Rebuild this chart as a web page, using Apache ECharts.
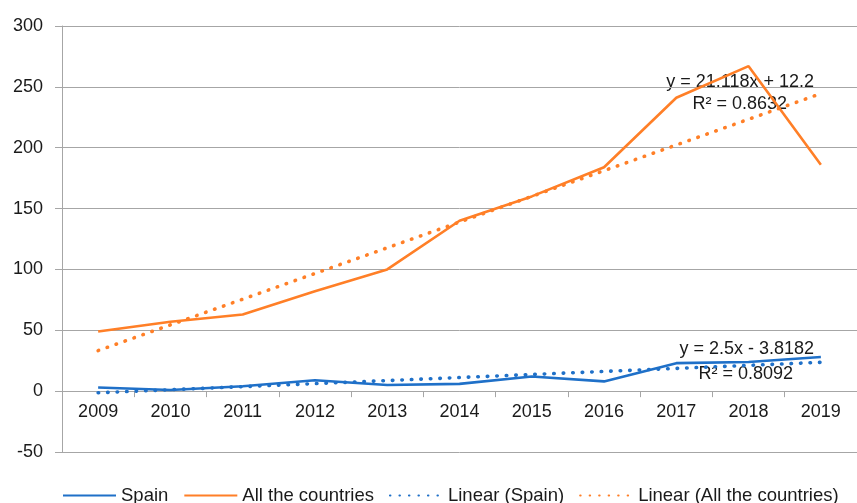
<!DOCTYPE html>
<html>
<head>
<meta charset="utf-8">
<script src="https://cdn.jsdelivr.net/npm/echarts@6/dist/echarts.min.js"></script>
<style>html,body{margin:0;padding:0;background:#fff}#c{width:857px;height:503px}</style>
</head>
<body>
<div id="c"></div>
<script>
var years = ['2009','2010','2011','2012','2013','2014','2015','2016','2017','2018','2019'];
var spain = [3, 1, 4, 9, 5, 6, 12, 8, 23, 24, 28];
var allCountries = [49, 57, 63, 82, 100, 140, 160, 184, 241, 267, 186];
var linearSpain = [-1.32, 1.18, 3.68, 6.18, 8.68, 11.18, 13.68, 16.18, 18.68, 21.18, 23.68];
var linearAll = [33.32, 54.44, 75.55, 96.67, 117.79, 138.91, 160.03, 181.14, 202.26, 223.38, 244.50];
var yTicks = { min: -50, max: 300, interval: 50 };
var eqAll = ['y = 21.118x + 12.2', 'R\u00b2 = 0.8632'];
var eqSpain = ['y = 2.5x - 3.8182', 'R\u00b2 = 0.8092'];

var BLUE = '#1f70c8', ORANGE = '#ff7f27', GRID = '#a6a6a6';
var FONT = 'Liberation Sans';
var chart = echarts.init(document.getElementById('c'));
var dotted = [0.5, 9];
var gridTop = 26, gridHeight = 426;
// place the category axis where value 0 sits
var zeroOffset = gridHeight * (yTicks.max - 0) / (yTicks.max - yTicks.min) - gridHeight;
chart.setOption({
  animation: false,
  backgroundColor: '#fff',
  textStyle: { fontFamily: FONT },
  grid: { left: 62, top: gridTop, width: 808.5, height: gridHeight, containLabel: false },
  xAxis: {
    type: 'category', data: years, boundaryGap: true, position: 'bottom', offset: zeroOffset,
    axisLine: { onZero: false, lineStyle: { color: GRID, width: 1 } },
    axisTick: { show: true, length: 6, lineStyle: { color: GRID } },
    axisLabel: { color: '#1a1a1a', fontSize: 18, margin: 12, fontFamily: FONT },
    splitLine: { show: false }
  },
  yAxis: {
    type: 'value', min: yTicks.min, max: yTicks.max, interval: yTicks.interval,
    axisLine: { show: true, lineStyle: { color: GRID, width: 1 } },
    axisTick: { show: true, length: 7, lineStyle: { color: GRID } },
    axisLabel: { color: '#1a1a1a', fontSize: 18, margin: 19, fontFamily: FONT },
    splitLine: { show: true, lineStyle: { color: GRID, width: 1 } }
  },
  legend: {
    left: 57, top: 481, itemWidth: 53, itemHeight: 14, itemGap: 15,
    itemStyle: { opacity: 0 },
    textStyle: { fontSize: 18.5, color: '#1a1a1a', fontFamily: FONT },
    data: ['Spain', 'All the countries', 'Linear (Spain)', 'Linear (All the countries)']
  },
  series: [
    { name: 'Spain', type: 'line', data: spain, symbol: 'none', color: BLUE,
      lineStyle: { color: BLUE, width: 2.6 } },
    { name: 'All the countries', type: 'line', data: allCountries, symbol: 'none', color: ORANGE,
      lineStyle: { color: ORANGE, width: 2.6 } },
    { name: 'Linear (Spain)', type: 'line', data: linearSpain, symbol: 'none', color: BLUE,
      lineStyle: { color: BLUE, width: 3.6, type: dotted, cap: 'round' } },
    { name: 'Linear (All the countries)', type: 'line', data: linearAll, symbol: 'none', color: ORANGE,
      lineStyle: { color: ORANGE, width: 3.6, type: dotted, cap: 'round' } }
  ],
  graphic: [
    { type: 'text', right: 857 - 814, top: 73, style: { text: eqAll[0], font: '18px "' + FONT + '"', fill: '#1a1a1a' } },
    { type: 'text', right: 857 - 787, top: 95, style: { text: eqAll[1], font: '18px "' + FONT + '"', fill: '#1a1a1a' } },
    { type: 'text', right: 857 - 814, top: 340, style: { text: eqSpain[0], font: '18px "' + FONT + '"', fill: '#1a1a1a' } },
    { type: 'text', right: 857 - 793, top: 365, style: { text: eqSpain[1], font: '18px "' + FONT + '"', fill: '#1a1a1a' } }
  ]
});
</script>
</body>
</html>
